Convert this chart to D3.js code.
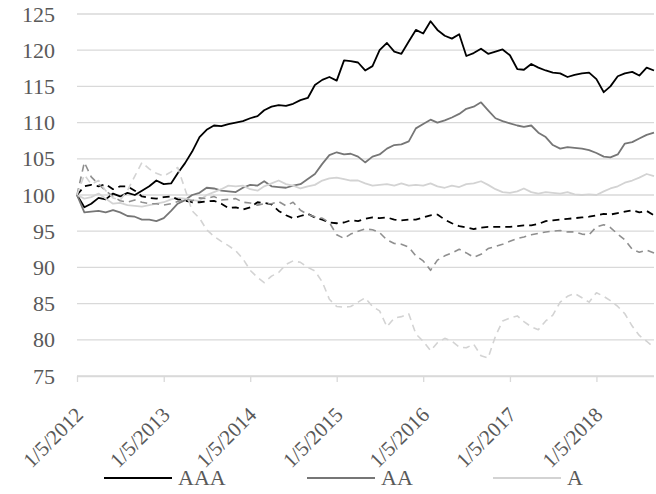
<!DOCTYPE html>
<html><head><meta charset="utf-8">
<script src="https://cdn.jsdelivr.net/npm/d3@7"></script>
<style>
html,body{margin:0;padding:0;background:#fff;}
svg{display:block;}
</style></head>
<body>
<svg id="chart" width="656" height="494"></svg>
<script>
// Monthly observations starting 1/5/2012 (81 points)
const startDate = "2012-01-05";
const monthCount = 81;
const yTicks = [75, 80, 85, 90, 95, 100, 105, 110, 115, 120, 125];
const xTickLabels = ["1/5/2012","1/5/2013","1/5/2014","1/5/2015","1/5/2016","1/5/2017","1/5/2018"];
const legendNames = ["AAA", "AA", "A"];

const AAA = [100,98.3,98.8,99.6,99.4,100.2,99.8,100.3,100.0,100.6,101.2,102.0,101.5,101.6,103.0,104.4,106.0,108.0,109.0,109.6,109.5,109.8,110.0,110.2,110.6,110.9,111.7,112.2,112.4,112.3,112.6,113.1,113.4,115.2,115.9,116.3,115.8,118.6,118.5,118.3,117.2,117.8,120.0,121.0,119.8,119.5,121.2,122.8,122.3,124.0,122.8,122.0,121.6,122.2,119.2,119.6,120.2,119.5,119.8,120.1,119.3,117.4,117.3,118.1,117.6,117.2,116.9,116.8,116.3,116.6,116.8,116.9,116.0,114.2,115.0,116.4,116.8,117.0,116.5,117.6,117.2];
const AA = [100,97.6,97.7,97.8,97.6,97.9,97.6,97.1,97.0,96.6,96.6,96.4,96.8,97.8,98.8,99.3,100.0,100.3,101.0,100.9,100.6,100.5,100.4,101.0,101.4,101.3,101.9,101.2,101.1,101.0,101.3,101.5,102.2,102.9,104.3,105.5,105.9,105.6,105.7,105.3,104.5,105.3,105.6,106.4,106.9,107.0,107.4,109.2,109.8,110.4,110.0,110.3,110.7,111.2,111.9,112.2,112.8,111.7,110.6,110.2,109.9,109.6,109.4,109.6,108.6,108.0,106.9,106.4,106.6,106.5,106.4,106.2,105.8,105.3,105.2,105.6,107.1,107.3,107.8,108.3,108.6];
const A = [100,99.5,99.7,100.2,99.5,98.8,98.9,98.6,98.5,98.4,98.6,98.8,99.0,99.4,99.6,99.5,99.3,99.2,100.0,100.4,100.8,101.3,101.2,101.3,100.8,100.6,101.2,101.6,102.0,101.5,101.3,100.9,101.2,101.4,102.0,102.3,102.4,102.2,102.0,102.0,101.6,101.3,101.4,101.5,101.3,101.6,101.3,101.4,101.3,101.6,101.2,101.0,101.3,101.1,101.5,101.6,101.9,101.4,100.8,100.4,100.3,100.5,100.9,100.4,100.2,100.4,100.3,100.2,100.4,100.1,100.0,100.1,100.0,100.5,100.9,101.2,101.7,102.0,102.4,102.9,102.6];
const AAA_dashed = [100,101.2,101.4,101.2,101.5,100.8,101.2,101.2,100.6,99.8,99.6,99.5,99.7,99.8,99.4,99.2,99.0,99.0,99.1,99.2,98.8,98.2,98.3,98.0,98.3,99.0,98.9,98.7,97.8,97.2,96.8,97.1,97.4,96.9,96.6,96.2,96.1,96.2,96.5,96.4,96.7,96.9,96.8,96.9,96.6,96.5,96.6,96.6,96.9,97.2,97.3,96.6,96.1,95.7,95.5,95.3,95.5,95.6,95.6,95.6,95.6,95.7,95.8,95.8,96.0,96.4,96.5,96.6,96.7,96.8,96.9,97.0,97.2,97.4,97.3,97.5,97.7,97.9,97.6,97.8,97.2];
const AA_dashed = [100,104.5,102.5,101.5,100.6,99.8,99.2,99.0,99.3,99.0,98.8,98.8,98.6,98.8,99.1,99.4,99.2,99.6,99.5,99.8,99.3,99.4,99.5,99.0,98.9,98.6,98.8,98.8,99.1,98.5,99.0,97.9,97.3,97.0,96.8,96.2,94.5,94.0,94.6,95.0,95.3,95.2,94.8,93.8,93.3,93.2,92.8,91.6,90.9,89.6,91.0,91.6,92.0,92.5,92.0,91.4,91.8,92.6,92.9,93.2,93.6,94.0,94.2,94.5,94.7,94.9,95.0,95.1,94.9,94.9,94.6,94.5,95.6,95.9,95.5,94.6,93.8,92.5,92.1,92.4,92.0];
const A_dashed = [100,102.8,101.5,102.0,100.6,99.6,99.3,100.6,102.6,104.5,103.6,103.0,102.6,103.2,103.8,100.8,97.8,96.8,95.2,94.3,93.6,93.0,92.3,91.2,89.6,88.6,87.9,88.8,89.3,90.4,90.9,90.7,90.0,89.5,88.0,85.6,84.6,84.5,84.6,85.2,85.8,84.6,84.0,81.8,83.0,83.2,83.6,80.8,79.8,78.5,79.6,80.2,79.8,79.0,78.9,79.4,77.8,77.5,80.5,82.6,83.0,83.3,82.5,81.8,81.4,82.6,83.4,85.2,86.0,86.4,85.8,85.2,86.5,86.0,85.4,84.6,83.6,81.9,80.6,79.8,78.9];

const parseISO = d3.timeParse("%Y-%m-%d");
const d0 = parseISO(startDate);
const dates = d3.range(monthCount).map(i => d3.timeMonth.offset(d0, i));
const tickDates = xTickLabels.map(s => d3.timeParse("%m/%d/%Y")(s));

const svg = d3.select("#chart");
const mLeft = 77, mRight = 654, mTop = 14, mBottom = 376;

const x = d3.scaleTime().domain([dates[0], dates[dates.length-1]]).range([mLeft, mRight]);
const y = d3.scaleLinear().domain([75, 125]).range([mBottom, mTop]);

const fontCss = "Liberation Serif";
const txtColor = "#595959";
const fs = "22px";

// gridlines
svg.append("g").selectAll("line").data(yTicks).join("line")
  .attr("x1", mLeft).attr("x2", mRight)
  .attr("y1", d => y(d)).attr("y2", d => y(d))
  .attr("stroke", "#d9d9d9").attr("stroke-width", 1.3);

// y axis labels
const yAxis = d3.axisLeft(y).tickValues(yTicks).tickSize(0).tickPadding(0);
const gy = svg.append("g").attr("transform", `translate(${mLeft-22},0)`).call(yAxis);
gy.attr("font-family", fontCss).attr("font-size", fs);
gy.select(".domain").remove();
gy.selectAll("text").attr("fill", txtColor);

// x axis
const xAxis = d3.axisBottom(x).tickValues(tickDates).tickSize(6).tickFormat((d,i) => xTickLabels[i]);
const gx = svg.append("g").attr("transform", `translate(0,${mBottom})`).call(xAxis);
gx.attr("font-family", fontCss).attr("font-size", "21px");
gx.select(".domain").attr("stroke", "#d9d9d9").attr("stroke-width", 1.3).attr("d", `M${mLeft},0.5H${mRight}`);
gx.selectAll(".tick line").attr("stroke", "#d9d9d9").attr("stroke-width", 1.3);
gx.selectAll(".tick text")
  .attr("fill", txtColor)
  .attr("text-anchor", "end")
  .attr("dy", 0).attr("y", 0)
  .attr("transform", "translate(7,40) rotate(-45)");

// series
const series = [
  {v: AAA, color: "#000000", dash: null, w: 1.8},
  {v: AA, color: "#767676", dash: null, w: 1.8},
  {v: A, color: "#d3d3d3", dash: null, w: 1.8},
  {v: AAA_dashed, color: "#000000", dash: "7,5", w: 1.8},
  {v: AA_dashed, color: "#8f8f8f", dash: "7,5", w: 1.6},
  {v: A_dashed, color: "#d3d3d3", dash: "7,5", w: 1.6}
];
const line = d3.line().x((d,i) => x(dates[i])).y(d => y(d));
svg.append("g").selectAll("path").data(series).join("path")
  .attr("d", s => line(s.v))
  .attr("fill", "none")
  .attr("stroke", s => s.color)
  .attr("stroke-width", s => s.w)
  .attr("stroke-dasharray", s => s.dash)
  .attr("stroke-linejoin", "round");

// legend
const legendX = [104, 307, 493];
const legendColors = ["#000000", "#767676", "#d3d3d3"];
const lg = svg.append("g").attr("font-family", fontCss).attr("font-size", fs);
legendNames.forEach((n, i) => {
  lg.append("line").attr("x1", legendX[i]).attr("x2", legendX[i] + 68)
    .attr("y1", 478).attr("y2", 478)
    .attr("stroke", legendColors[i]).attr("stroke-width", 2);
  lg.append("text").attr("x", legendX[i] + 74).attr("y", 485)
    .attr("fill", txtColor).text(n);
});
</script>
</body></html>
